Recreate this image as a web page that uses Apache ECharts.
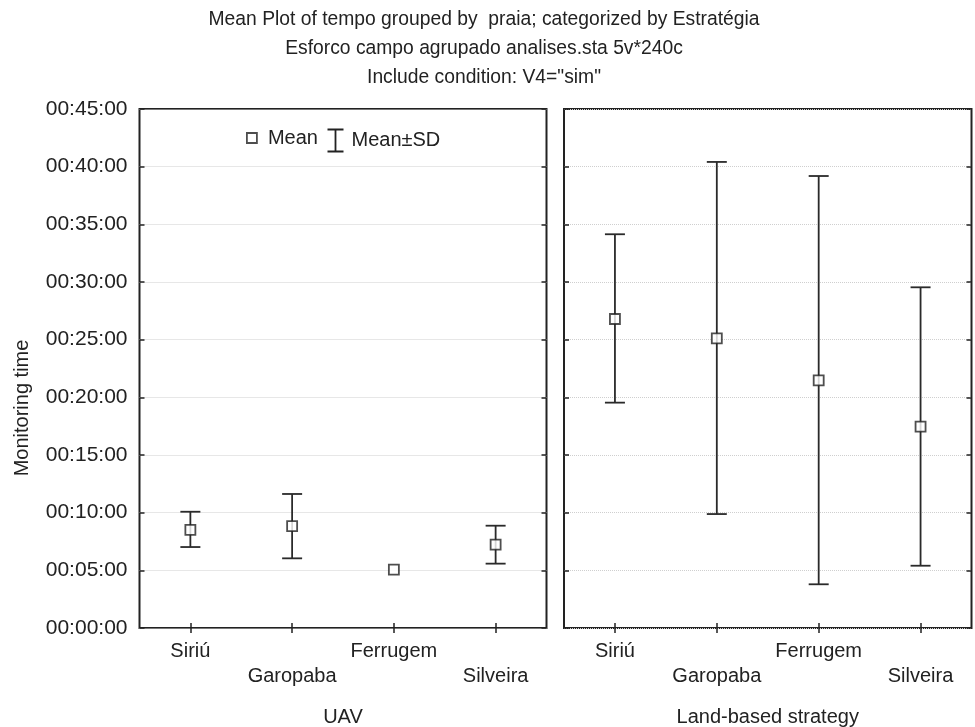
<!DOCTYPE html>
<html>
<head>
<meta charset="UTF-8">
<title>Mean Plot</title>
<script src="https://cdn.jsdelivr.net/npm/echarts@6/dist/echarts.min.js"></script>
<style>
  body { margin: 0; background: #fff; }
  #chart { width: 975px; height: 727px; }
</style>
</head>
<body>
<div id="chart"></div>
<script type="text/javascript">
    // praias (same order in both panels)
    var places = ['Siriú', 'Garopaba', 'Ferrugem', 'Silveira'];
    var yTicks = [0, 5, 10, 15, 20, 25, 30, 35, 40, 45]; // minutes

    // UAV: mean and mean±SD, in minutes
    var uavMean = [8.50, 8.84, 5.07, 7.23];
    var uavLow  = [7.02, 6.04, 5.07, 5.58];
    var uavHigh = [10.08, 11.62, 5.07, 8.87];

    // Land-based strategy
    var landMean = [26.79, 25.12, 21.47, 17.46];
    var landLow  = [19.54, 9.88, 3.79, 5.40];
    var landHigh = [34.14, 40.41, 39.19, 29.54];

    var FONT = 'Liberation Sans';
    var INK = '#222';
    var LINE = '#2a2a2a';

    function fmtTime(v) {
        var m = Math.round(v);
        return '00:' + (m < 10 ? '0' + m : m) + ':00';
    }

    function errData(low, high) {
        var out = [];
        for (var i = 0; i < low.length; i++) {
            out.push([i, low[i], high[i]]);
        }
        return out;
    }

    // vertical bar + caps, nothing when SD is zero
    function renderErr(params, api) {
        var lo = api.value(1), hi = api.value(2);
        if (hi - lo < 1e-6) return;
        var top = api.coord([api.value(0), hi]);
        var bot = api.coord([api.value(0), lo]);
        var hw = 10;
        var st = { stroke: LINE, lineWidth: 1.8 };
        return {
            type: 'group',
            children: [
                { type: 'line', shape: { x1: top[0], y1: top[1], x2: bot[0], y2: bot[1] }, style: st },
                { type: 'line', shape: { x1: top[0] - hw, y1: top[1], x2: top[0] + hw, y2: top[1] }, style: st },
                { type: 'line', shape: { x1: bot[0] - hw, y1: bot[1], x2: bot[0] + hw, y2: bot[1] }, style: st }
            ]
        };
    }

    var tickIn = { show: true, inside: true, length: 5, lineStyle: { color: INK, width: 1.5 } };

    function xBottom(gi, name) {
        return {
            type: 'category', gridIndex: gi, data: places, position: 'bottom',
            boundaryGap: true,
            axisLine: { show: false },
            axisTick: { show: true, inside: true, length: 5, alignWithLabel: true, lineStyle: { color: INK, width: 1.5 } },
            axisLabel: {
                interval: 0, margin: 11, color: INK, fontFamily: FONT, fontSize: 20, lineHeight: 25,
                formatter: function (v, i) { return i % 2 === 1 ? '\n' + v : v; }
            },
            name: name, nameLocation: 'middle', nameGap: 79,
            nameTextStyle: { color: INK, fontFamily: FONT, fontSize: 20 }
        };
    }
    function xTop(gi) {
        return {
            type: 'category', gridIndex: gi, data: places, position: 'top',
            boundaryGap: true,
            axisLine: { show: false },
            axisTick: { show: true, inside: true, length: 5, alignWithLabel: true, lineStyle: { color: INK, width: 1.5 } },
            axisLabel: { show: false }
        };
    }
    function yAxisFor(gi, pos, labels) {
        return {
            type: 'value', gridIndex: gi, position: pos,
            min: yTicks[0], max: yTicks[yTicks.length - 1], interval: 5,
            axisLine: { show: false },
            axisTick: tickIn,
            axisLabel: {
                show: labels, margin: 12, color: INK, fontFamily: FONT, fontSize: 21,
                formatter: fmtTime
            },
            splitLine: { show: pos === 'left', lineStyle: { color: '#cfcfcf', type: 'dotted', width: 1 } }
        };
    }

    var squareStyle = { color: '#fff', borderColor: INK, borderWidth: 1.8 };
    var ibeam = 'path://M0,0 L16,0 M8,0 L8,22 M0,22 L16,22';

    var chart = echarts.init(document.getElementById('chart'));
    var option = {
        backgroundColor: '#fff',
        animation: false,
        title: {
            text: 'Mean Plot of tempo grouped by  praia; categorized by Estratégia\n' +
                  'Esforco campo agrupado analises.sta 5v*240c\n' +
                  'Include condition: V4="sim"',
            left: 479, top: 0, textAlign: 'center',
            textStyle: { color: INK, fontFamily: FONT, fontSize: 19.3, fontWeight: 'normal', lineHeight: 29 }
        },
        legend: [
            {
                data: [{ name: 'Mean', icon: 'rect' }],
                left: 246, top: 128, padding: 0, itemWidth: 10, itemHeight: 10,
                itemStyle: squareStyle,
                textStyle: { color: INK, fontFamily: FONT, fontSize: 20, padding: [0, 0, 0, 6] }
            },
            {
                data: [{ name: 'Mean±SD', icon: ibeam }],
                left: 325, top: 127, padding: 0, itemWidth: 16, itemHeight: 22,
                itemStyle: { color: 'none', borderColor: INK, borderWidth: 1.8 },
                textStyle: { color: INK, fontFamily: FONT, fontSize: 20, padding: [0, 0, 0, 3] }
            }
        ],
        grid: [
            { left: 139.5, right: 428.5, top: 109, bottom: 99, outerBoundsMode: 'none', show: true, borderColor: INK, borderWidth: 2, backgroundColor: 'transparent' },
            { left: 564, right: 3.5, top: 109, bottom: 99, outerBoundsMode: 'none', show: true, borderColor: INK, borderWidth: 2, backgroundColor: 'transparent' }
        ],
        xAxis: [xBottom(0, 'UAV'), xTop(0), xBottom(1, 'Land-based strategy'), xTop(1)],
        yAxis: [yAxisFor(0, 'left', true), yAxisFor(0, 'right', false), yAxisFor(1, 'left', false), yAxisFor(1, 'right', false)],
        graphic: [{
            type: 'text', x: 22, y: 408, rotation: Math.PI / 2,
            style: { text: 'Monitoring time', fill: INK, font: '20px "Liberation Sans"', align: 'center', verticalAlign: 'middle' }
        }],
        series: [
            {
                name: 'Mean±SD', type: 'custom', xAxisIndex: 0, yAxisIndex: 0,
                renderItem: renderErr, encode: { x: 0, y: [1, 2] }, data: errData(uavLow, uavHigh), z: 2
            },
            {
                name: 'Mean±SD', type: 'custom', xAxisIndex: 2, yAxisIndex: 2,
                renderItem: renderErr, encode: { x: 0, y: [1, 2] }, data: errData(landLow, landHigh), z: 2
            },
            {
                name: 'Mean', type: 'scatter', xAxisIndex: 0, yAxisIndex: 0,
                symbol: 'rect', symbolSize: 10, itemStyle: squareStyle, data: uavMean, z: 3
            },
            {
                name: 'Mean', type: 'scatter', xAxisIndex: 2, yAxisIndex: 2,
                symbol: 'rect', symbolSize: 10, itemStyle: squareStyle, data: landMean, z: 3
            }
        ]
    };
    chart.setOption(option);
</script>
</body>
</html>
